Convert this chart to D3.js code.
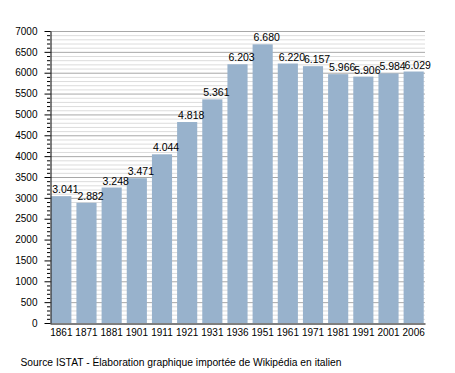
<!DOCTYPE html>
<html><head><meta charset="utf-8">
<script src="https://cdn.jsdelivr.net/npm/d3@7"></script>
<style>body{margin:0;background:#fff}svg{display:block}text{font-family:"Liberation Sans",Arial,sans-serif;fill:#000}</style>
</head><body>
<svg id="c" width="455" height="373"></svg>
<script>
const years = ["1861","1871","1881","1901","1911","1921","1931","1936","1951","1961","1971","1981","1991","2001","2006"];
const population = [3041,2882,3248,3471,4044,4818,5361,6203,6680,6220,6157,5966,5906,5984,6029];
const yTicks = [0,500,1000,1500,2000,2500,3000,3500,4000,4500,5000,5500,6000,6500,7000];
const sourceText = "Source ISTAT - Élaboration graphique importée de Wikipédia en italien";

(function(){
const svg = d3.select("#c");
const pLeft = 50, pRight = 425, pTop = 31, pBottom = 323;
const x = d3.scaleBand().domain(years).range([pLeft, pRight]).paddingInner(0.2).paddingOuter(0.05);
const y = d3.scaleLinear().domain([0, 7000]).range([pBottom, pTop]);
const loc = d3.formatLocale({decimal: ",", thousands: ".", grouping: [3], currency: ["", "€"]});
const fmt = loc.format(",d");
const FF = '"Liberation Sans",Arial,sans-serif';

const minor = d3.range(0, 7001, 100).filter(v => v % 500 !== 0);
svg.append("g").selectAll("line").data(minor).join("line")
  .attr("x1", pLeft).attr("x2", pRight).attr("y1", d => y(d)+0.5).attr("y2", d => y(d)+0.5)
  .attr("stroke", "#dcdcdc").attr("stroke-width", 1);
svg.append("g").selectAll("line").data(yTicks.filter(d => d > 0)).join("line")
  .attr("x1", pLeft).attr("x2", pRight).attr("y1", d => y(d)+0.5).attr("y2", d => y(d)+0.5)
  .attr("stroke", "#a8a8a8").attr("stroke-width", 1);

svg.append("g").selectAll("rect").data(population).join("rect")
  .attr("x", (d,i) => x(years[i])).attr("width", x.bandwidth())
  .attr("y", d => y(d)).attr("height", d => y(0) - y(d))
  .attr("fill", "#98b2cc");

svg.append("g").selectAll("text").data(population).join("text")
  .attr("x", (d,i) => x(years[i]) + 1).attr("y", d => y(d) - 3)
  .attr("font-size", "10.5px").text(d => fmt(d));

const yAxis = d3.axisLeft(y).tickValues(yTicks).tickFormat(d3.format("d")).tickSize(6).tickSizeOuter(0).tickPadding(7);
const gy = svg.append("g").attr("transform", `translate(${pLeft+0.5},0)`).call(yAxis);
gy.select(".domain").attr("stroke", "#000");
gy.selectAll(".tick line").attr("stroke", "#000");
gy.selectAll("text").attr("font-size", "10px").attr("font-family", FF);
svg.append("g").selectAll("line").data(minor).join("line")
  .attr("x1", pLeft - 3).attr("x2", pLeft).attr("y1", d => y(d)+0.5).attr("y2", d => y(d)+0.5)
  .attr("stroke", "#000");

const xAxis = d3.axisBottom(x).tickSize(0).tickSizeOuter(0).tickPadding(5);
const gx = svg.append("g").attr("transform", `translate(0,${pBottom+0.5})`).call(xAxis);
gx.select(".domain").attr("stroke", "#000").attr("stroke-width", 1.2);
gx.selectAll("text").attr("font-size", "10px").attr("font-family", FF);

svg.append("text").attr("x", 20.5).attr("y", 366).attr("font-size", "10px")
  .attr("textLength", 321).attr("lengthAdjust", "spacingAndGlyphs").text(sourceText);
})();
</script>
</body></html>
